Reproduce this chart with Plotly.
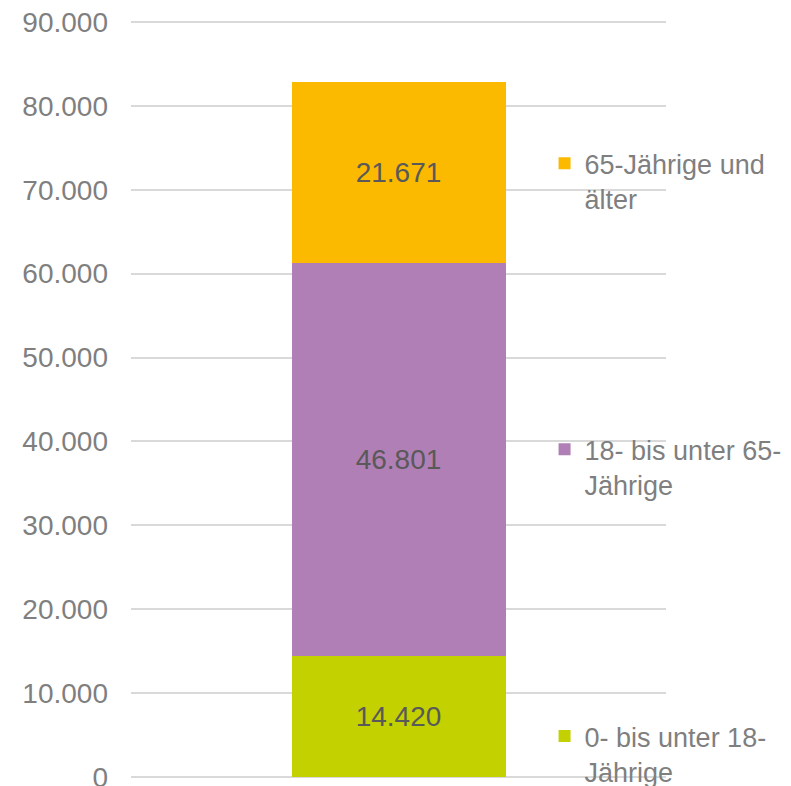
import plotly.graph_objects as go

category = [""]
series_names = ["0- bis unter 18-<br>Jährige", "18- bis unter 65-<br>Jährige", "65-Jährige und<br>älter"]
series_values = [[14420], [46801], [21671]]
series_colors = ["#C3D100", "#B07FB5", "#FBBA00"]
value_labels = ["14.420", "46.801", "21.671"]
tick_values = [0, 10000, 20000, 30000, 40000, 50000, 60000, 70000, 80000, 90000]
tick_labels = ["0", "10.000", "20.000", "30.000", "40.000", "50.000", "60.000", "70.000", "80.000", "90.000"]

FONT = "Liberation Sans, Arial, sans-serif"
legend_names = ["legend3", "legend2", "legend"]

fig = go.Figure()
for name, vals, col, lab, lg in zip(series_names, series_values, series_colors, value_labels, legend_names):
    fig.add_trace(go.Bar(
        x=category, y=vals, name=name, marker_color=col, marker_line_width=0,
        text=[lab], textposition="inside", insidetextanchor="middle",
        textfont=dict(family=FONT, size=28, color="#595959"),
        legend=lg, width=0.4, hoverinfo="skip",
    ))

legend_common = dict(font=dict(family=FONT, size=27, color="#7F7F7F"),
                      bgcolor="rgba(0,0,0,0)", xanchor="left", yanchor="top",
                      valign="top", itemwidth=30, tracegroupgap=0)

fig.update_layout(
    barmode="stack",
    width=791, height=786,
    margin=dict(l=131, r=125, t=19, b=6, autoexpand=False),
    paper_bgcolor="white", plot_bgcolor="white",
    showlegend=True,
    legend=dict(x=0.773, y=0.8422, **legend_common),
    legend2=dict(x=0.773, y=0.4662, **legend_common),
    legend3=dict(x=0.773, y=0.0894, **legend_common),
    xaxis=dict(showticklabels=False, showgrid=False, zeroline=False, showline=False,
               range=[-0.5, 0.5], automargin=False),
    yaxis=dict(range=[-360, 90360], tickvals=tick_values, ticktext=tick_labels,
               showgrid=True, gridcolor="#D9D9D9", gridwidth=2, zeroline=False,
               showline=False, ticks="", ticklabelstandoff=22, automargin=False,
               ticklabeloverflow="allow",
               tickfont=dict(family=FONT, size=28, color="#7F7F7F")),
)

fig.write_html("out.html", config={"displayModeBar": False},
               post_script="document.body.style.margin='0';")
